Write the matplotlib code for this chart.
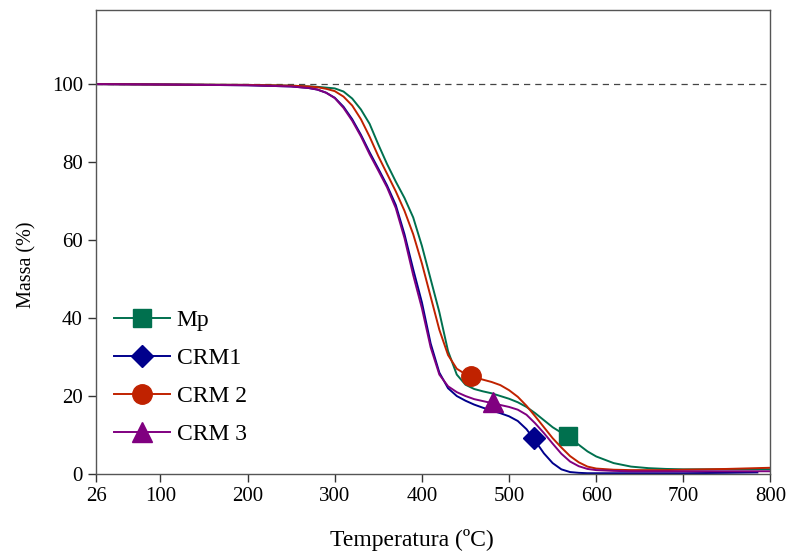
import matplotlib
matplotlib.use("Agg")
import matplotlib.pyplot as plt

plt.rcParams['font.family'] = ['Liberation Serif', 'DejaVu Serif']

# temperaturas (ºC)
temp = [26, 100, 200, 250, 270, 280, 290, 300, 310, 320, 330, 340, 350, 360,
        370, 380, 390, 400, 410, 420, 430, 440, 450, 460, 470, 480, 490, 500,
        510, 520, 530, 540, 550, 560, 570, 580, 590, 600, 620, 640, 660, 680,
        700, 750, 800]

mp = [100, 99.9, 99.8, 99.6, 99.4, 99.3, 99.1, 98.9, 98.1, 96.3, 93.5, 89.8,
      84.5, 79.5, 75.0, 70.8, 65.8, 58.5, 50.0, 41.5, 31.5, 25.5, 22.9, 21.8,
      21.2, 20.7, 20.0, 19.3, 18.4, 17.2, 15.6, 13.8, 12.0, 10.6, 9.2, 7.5,
      5.8, 4.5, 2.8, 1.9, 1.5, 1.3, 1.2, 1.2, 1.2]

crm2 = [100, 99.9, 99.8, 99.6, 99.4, 99.2, 98.8, 98.2, 96.8, 94.5, 91.0, 86.5,
        81.5, 77.0, 72.5, 67.5, 61.5, 54.0, 45.5, 37.0, 30.5, 27.0, 25.6, 24.8,
        24.2, 23.6, 22.8, 21.5, 19.8, 17.5, 14.8, 12.0, 9.2, 6.8, 4.6, 3.0,
        1.9, 1.4, 1.1, 1.0, 1.0, 1.0, 1.1, 1.3, 1.6]

crm3 = [100, 99.9, 99.7, 99.4, 99.0, 98.6, 97.8, 96.4, 93.9, 90.6, 86.6, 82.0,
        77.8, 73.5, 68.2, 60.5, 51.0, 42.5, 32.5, 25.5, 22.5, 21.0, 20.0, 19.2,
        18.7, 18.2, 17.7, 17.2, 16.5, 15.2, 13.0, 10.5, 7.8, 5.2, 3.2, 2.0,
        1.3, 1.0, 0.8, 0.7, 0.7, 0.7, 0.7, 0.7, 0.7]

temp_crm1 = temp[:-1] + [785]
crm1 = [100, 99.9, 99.7, 99.4, 99.0, 98.6, 97.8, 96.5, 94.2, 91.0, 87.0, 82.5,
        78.3, 74.0, 69.0, 61.5, 52.5, 44.0, 33.5, 26.0, 22.0, 20.0, 18.8, 17.8,
        17.0, 16.3, 15.6, 14.8, 13.6, 11.5, 8.5, 5.3, 2.8, 1.2, 0.5, 0.3,
        0.2, 0.2, 0.2, 0.2, 0.2, 0.2, 0.2, 0.3, 0.4]

# posição dos marcadores
mark_x = {'Mp': 567.6, 'CRM1': 528.6, 'CRM 2': 456.5, 'CRM 3': 481.7}
mark_y = {'Mp': 9.7, 'CRM1': 9.2, 'CRM 2': 25.1, 'CRM 3': 18.5}

series = [
    ('Mp', temp, mp, '#00704E', 's', 13),
    ('CRM1', temp_crm1, crm1, '#00008C', 'D', 11),
    ('CRM 2', temp, crm2, '#C02200', 'o', 14),
    ('CRM 3', temp, crm3, '#800080', '^', 14),
]

fig = plt.figure(figsize=(7.87, 5.57), dpi=100)
ax = fig.add_axes([0.122, 0.149, 0.857, 0.833])

ax.axhline(100, color='#444444', linestyle=(0, (5, 4)), linewidth=0.9)

handles = []
for name, x, y, color, marker, ms in series:
    ax.plot(x, y, color=color, linewidth=1.4)
    ax.plot([mark_x[name]], [mark_y[name]], linestyle='none', marker=marker,
            markersize=ms, color=color)
    h, = ax.plot([], [], color=color, linewidth=1.4, marker=marker,
                 markersize=ms)
    handles.append(h)

ax.set_xlim(26, 800)
ax.set_ylim(0, 119)
ax.set_xticks([26, 100, 200, 300, 400, 500, 600, 700, 800])
ax.set_yticks([0, 20, 40, 60, 80, 100])
ax.tick_params(direction='out', length=6, width=1, labelsize=15,
               colors='#333333', labelcolor='black')
for s in ax.spines.values():
    s.set_color('#555555')
    s.set_linewidth(1)

ax.set_xlabel('Temperatura (ºC)', fontsize=17)
ax.xaxis.set_label_coords(0.469, -0.118)
ax.set_ylabel('Massa (%)', fontsize=14.5)
ax.yaxis.set_label_coords(-0.088, 0.45)

ax.legend(handles, [s[0] for s in series], loc='center left',
          bbox_to_anchor=(0.027, 0.208), frameon=False, fontsize=17,
          handlelength=2.35, handletextpad=0.3, labelspacing=0.7,
          borderpad=0, borderaxespad=0)

fig.savefig('out.png', dpi=100)
